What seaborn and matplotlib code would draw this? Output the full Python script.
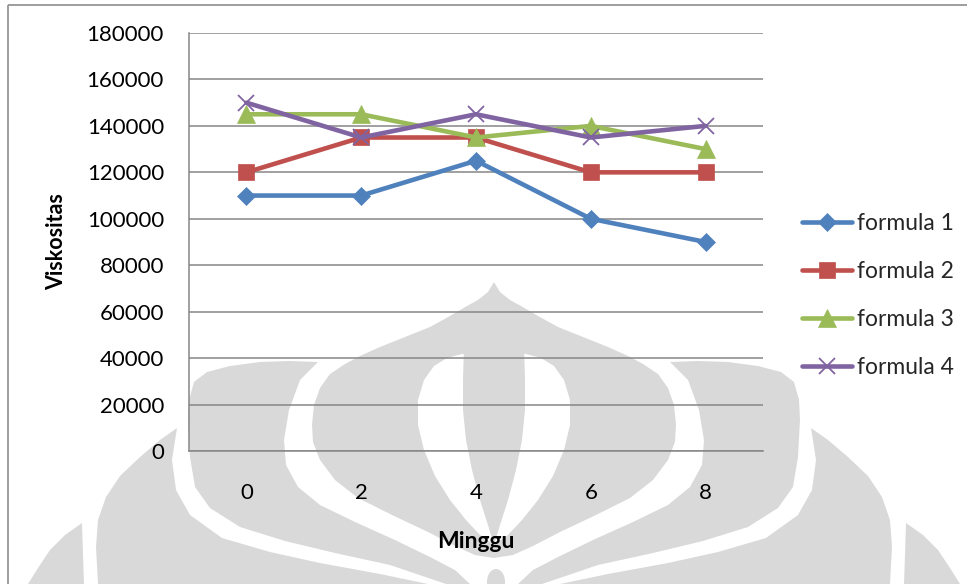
import numpy as np
import pandas as pd
import matplotlib
matplotlib.use("Agg")
import matplotlib.pyplot as plt
from matplotlib.patches import Polygon, Ellipse
import seaborn as sns

# ---- data -------------------------------------------------------------
minggu = [0, 2, 4, 6, 8]
formula_names = ["formula 1", "formula 2", "formula 3", "formula 4"]
formula_1 = [110000, 110000, 125000, 100000, 90000]
formula_2 = [120000, 135000, 135000, 120000, 120000]
formula_3 = [145000, 145000, 135000, 140000, 130000]
formula_4 = [150000, 135000, 145000, 135000, 140000]
y_ticks = [0, 20000, 40000, 60000, 80000, 100000, 120000, 140000, 160000, 180000]

series_colors = ["#4F81BD", "#C0504D", "#9BBB59", "#8064A2"]
series_markers = ["D", "s", "^", "x"]
marker_sizes = [9.0, 12.0, 12.5, 12.0]

df = pd.DataFrame({
    "Minggu": minggu * 4,
    "Viskositas": formula_1 + formula_2 + formula_3 + formula_4,
    "Formula": [n for n in formula_names for _ in minggu],
})

sns.set_theme(style="white")
plt.rcParams["font.family"] = ["Lato", "DejaVu Sans"]

W, H = 967, 584
fig = plt.figure(figsize=(W / 100, H / 100), dpi=100)
fig.patch.set_facecolor("white")

# ---- background layer: faint emblem and chart border (pixel coords) ----
bg = fig.add_axes([0, 0, 1, 1], zorder=0)
bg.set_xlim(0, W)
bg.set_ylim(H, 0)
bg.axis("off")

CX = 494
GREY = "#d9d9d9"


def mirrored(pts):
    return [(2 * CX - x, y) for x, y in pts]


def half_shape(left_pts):
    # left half from top centre down to bottom centre, closed by its mirror
    right = mirrored(left_pts)[::-1]
    return left_pts + right


outer_tip = [(82, 523), (65, 535), (50, 550), (38, 568), (28, 584), (84, 584), (83, 555)]
horn = [(177, 428), (160, 440), (140, 457), (120, 476), (106, 497), (98, 520),
        (96, 547), (98, 584), (428, 584), (380, 574), (320, 563), (270, 552),
        (222, 538), (190, 515), (176, 490), (172, 460)]
lobe = [(318, 362), (290, 361), (260, 362), (230, 366), (207, 372), (194, 382),
        (189, 400), (188, 420), (190, 457), (195, 487), (210, 508), (240, 527),
        (285, 541), (335, 553), (390, 565), (446, 584), (470, 584), (455, 570),
        (430, 557), (395, 540), (355, 522), (320, 505), (298, 487), (286, 465),
        (284, 440), (289, 410), (300, 380)]
dome_left = [(494, 282), (488, 292), (478, 300), (467, 306), (450, 316), (430, 327),
             (405, 337), (380, 347), (360, 356), (345, 364), (330, 374), (320, 388),
             (314, 405), (312, 425), (313, 442), (320, 460), (335, 480), (358, 498),
             (392, 515), (428, 532), (455, 546), (475, 555), (494, 558)]
hollow_left = [(494, 352), (462, 354), (447, 358), (434, 366), (424, 380), (418, 400),
               (418, 425), (424, 450), (435, 476), (450, 500), (466, 520), (480, 535),
               (494, 545)]
spike_left = [(494, 345), (464, 345), (463, 380), (463, 410), (466, 440), (472, 470),
              (480, 500), (488, 525), (494, 545)]

for shape in (outer_tip, horn, lobe):
    bg.add_patch(Polygon(shape, closed=True, fc=GREY, ec="none"))
    bg.add_patch(Polygon(mirrored(shape), closed=True, fc=GREY, ec="none"))
bg.add_patch(Polygon(half_shape(dome_left), closed=True, fc=GREY, ec="none"))
bg.add_patch(Polygon(half_shape(hollow_left), closed=True, fc="white", ec="none"))
bg.add_patch(Polygon(half_shape(spike_left), closed=True, fc=GREY, ec="none"))
bg.add_patch(Ellipse((CX + 2, 582), 18, 26, fc=GREY, ec="none"))

border_kw = dict(color="#8c8c8c", lw=1.2, solid_capstyle="butt")
bg.plot([8, 8], [5, H], **border_kw)
bg.plot([8, W], [5, 5], **border_kw)

# ---- chart --------------------------------------------------------------
ax = fig.add_axes([189 / W, 1 - 451 / H, 574 / W, 418 / H], zorder=1)
ax.patch.set_alpha(0)

sns.lineplot(data=df, x="Minggu", y="Viskositas", hue="Formula",
             hue_order=formula_names, palette=series_colors,
             linewidth=3.3, ax=ax, legend=False)

data_lines = [ln for ln in ax.lines if len(ln.get_xdata()) == len(minggu)]
for ln, col, mk, ms in zip(data_lines, series_colors, series_markers, marker_sizes):
    ln.set_marker(mk)
    ln.set_markersize(ms)
    ln.set_markerfacecolor(col)
    ln.set_markeredgecolor(col)
    ln.set_markeredgewidth(1.3 if mk == "x" else 0.5)
    ln.set_solid_joinstyle("round")
    ln.set_solid_capstyle("round")
    ln.set_zorder(3)

ax.set_xlim(-1, 9)
ax.set_ylim(0, 180000)
ax.set_xticks(minggu)
ax.set_xticklabels([str(m) for m in minggu])
ax.set_yticks(y_ticks)
ax.set_yticklabels([str(v) for v in y_ticks])

grid_col = "#868686"
ax.yaxis.grid(True, color=grid_col, lw=1.1)
ax.xaxis.grid(False)
for side in ("top", "right"):
    ax.spines[side].set_visible(False)
for side in ("left", "bottom"):
    ax.spines[side].set_color(grid_col)
    ax.spines[side].set_linewidth(1.1)

ax.tick_params(axis="both", length=0, labelsize=16, labelcolor="black")
ax.tick_params(axis="y", pad=18)
ax.tick_params(axis="x", pad=23)

ax.set_xlabel("Minggu", fontsize=16.5, fontweight="bold", color="black", va="center")
ax.xaxis.set_label_coords(0.5, (451 - 541) / 418)
ax.set_ylabel("Viskositas", fontsize=15.5, fontweight="bold", color="black", va="center")
ax.yaxis.set_label_coords((57 - 189) / 574, 0.5)

ax.legend(data_lines, formula_names, loc="upper left",
          bbox_to_anchor=(802 / W, 1 - 213 / H), bbox_transform=fig.transFigure,
          frameon=False, fontsize=16.5, handlelength=2.2, handletextpad=0.22,
          labelspacing=1.18, borderpad=0, borderaxespad=0, numpoints=1)

fig.savefig("out.png", dpi=100, facecolor="white")
